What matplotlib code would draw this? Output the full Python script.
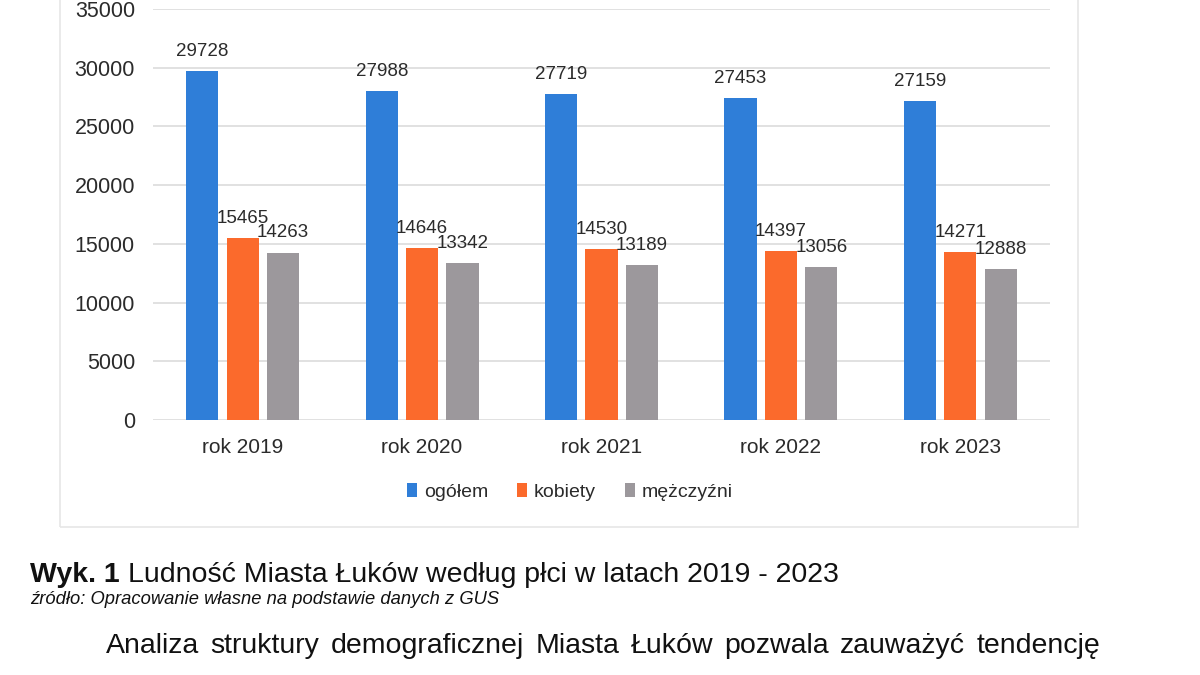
import matplotlib
matplotlib.use("Agg")
import matplotlib.pyplot as plt
import numpy as np
from matplotlib.patches import Rectangle

categories = ["rok 2019", "rok 2020", "rok 2021", "rok 2022", "rok 2023"]
ogolem = [29728, 27988, 27719, 27453, 27159]
kobiety = [15465, 14646, 14530, 14397, 14271]
mezczyzni = [14263, 13342, 13189, 13056, 12888]
series_names = ["ogółem", "kobiety", "mężczyźni"]
colors = ["#2F7ED8", "#FB6A2C", "#9C989C"]
yticks = [0, 5000, 10000, 15000, 20000, 25000, 30000, 35000]

plt.rcParams['font.family'] = ['Liberation Sans', 'DejaVu Sans']
txt = "#2b2b2b"

W, H = 1200, 675
fig = plt.figure(figsize=(12, 6.75), dpi=100)
fig.patch.set_facecolor("white")

# chart frame
fig.patches.append(Rectangle((60/W, 1-527/H), (1078-60)/W, 540/H,
                             transform=fig.transFigure, fill=False,
                             edgecolor="#E6E6E6", linewidth=1.2, zorder=0))

ax = fig.add_axes([153/W, 1-420/H, (1050-153)/W, 411/H])
x = np.arange(len(categories))
w = 0.18
pitch = 0.225
for i, (vals, name, c) in enumerate(zip([ogolem, kobiety, mezczyzni], series_names, colors)):
    bars = ax.bar(x + (i-1)*pitch, vals, width=w, color=c, label=name, zorder=3)
    ax.bar_label(bars, padding=8, fontsize=13.5, color=txt)

ax.set_ylim(0, 35000)
ax.set_xlim(-0.5, len(categories)-0.5)
ax.set_yticks(yticks)
ax.set_yticklabels([str(v) for v in yticks], fontsize=15.5, color=txt)
ax.set_xticks(x)
ax.set_xticklabels(categories, fontsize=15, color=txt)
ax.tick_params(axis='both', length=0)
ax.tick_params(axis='y', pad=13)
ax.tick_params(axis='x', pad=13)
ax.yaxis.grid(True, color="#DCDCDC", linewidth=1.2, zorder=0)
ax.set_axisbelow(True)
for s in ax.spines.values():
    s.set_visible(False)
ax.set_facecolor("white")

leg = fig.legend(loc="center", bbox_to_anchor=(570/W, 1-492/H), ncol=3,
                 frameon=False, fontsize=14, handlelength=0.5, handleheight=0.7,
                 handletextpad=0.35, columnspacing=1.5)
for t in leg.get_texts():
    t.set_color(txt)

renderer = fig.canvas.get_renderer()

# caption
fig.text(30/W, 1-582/H, "Wyk. 1", fontsize=20.5, fontweight="bold",
         color="#111", va="baseline")
fig.text(128/W, 1-582/H, "Ludność Miasta Łuków według płci w latach 2019 - 2023",
         fontsize=20.5, color="#111", va="baseline")
fig.text(30/W, 1-604/H, "źródło: Opracowanie własne na podstawie danych z GUS",
         fontsize=13.2, style="italic", color="#111", va="baseline")

# justified body line
words = "Analiza struktury demograficznej Miasta Łuków pozwala zauważyć tendencję".split()
x0, x1 = 106, 1100
objs = [fig.text(0, 1-653/H, wd, fontsize=20.5, color="#111", va="baseline") for wd in words]
widths = [o.get_window_extent(renderer).width for o in objs]
gap = (x1 - x0 - sum(widths)) / (len(words) - 1)
cx = x0
for o, wd in zip(objs, widths):
    o.set_x(cx / W)
    cx += wd + gap

fig.savefig("out.png", dpi=100)
